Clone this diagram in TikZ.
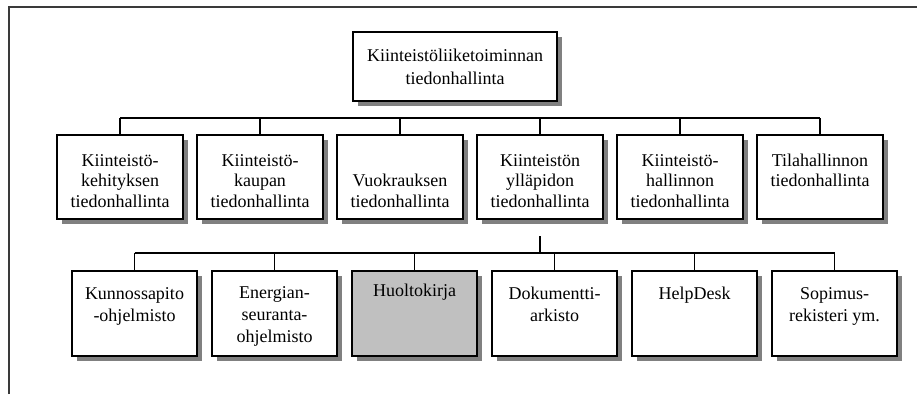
\documentclass[tikz,border=0pt]{standalone}
\usepackage{fontspec}
\setmainfont{Liberation Serif}
\usetikzlibrary{shadows}
\definecolor{shadowgray}{HTML}{808080}
\definecolor{markgray}{HTML}{C0C0C0}
\definecolor{framegray}{HTML}{3A3A3A}
\tikzset{
  box/.style={draw, line width=1.6pt, fill=white, inner sep=0pt,
    drop shadow={shadow xshift=5pt, shadow yshift=-5pt, fill=shadowgray, opacity=1}},
  midbox/.style={box, minimum width=126pt, minimum height=84pt},
  lowbox/.style={box, minimum width=125pt, minimum height=85pt},
  txt/.style={inner sep=0pt, align=center, anchor=north},
  toptxt/.style={txt, font=\fontsize{18}{23}\selectfont},
  midtxt/.style={txt, font=\fontsize{18}{20.5}\selectfont},
  lowtxt/.style={txt, font=\fontsize{18}{22}\selectfont},
  link/.style={line width=1.2pt, draw=black},
}
\begin{document}
\begin{tikzpicture}[x=1pt, y=-1pt]
\useasboundingbox (0,0) rectangle (917,394);
% outer frame (open towards right and bottom)
\draw[framegray, line width=1.6pt] (9,394) -- (9,7) -- (917,7);

% root
\node[box, minimum width=204pt, minimum height=69pt] (root) at (455,66.5) {};
\node[toptxt] (troot) at ([yshift=-13.9pt]root.north)
  {\strut Kiinteistöliiketoiminnan\\tiedonhallinta};

% second level
\node[midbox] (m1) at (120,177) {};
\node[midbox] (m2) at (260,177) {};
\node[midbox] (m3) at (400,177) {};
\node[midbox] (m4) at (540,177) {};
\node[midbox] (m5) at (680,177) {};
\node[midbox] (m6) at (820,177) {};
\node[midtxt] (tm1) at ([yshift=-17.6pt]m1.north) {\strut Kiinteistö-\\kehityksen\\tiedonhallinta};
\node[midtxt] (tm2) at ([yshift=-17.6pt]m2.north) {\strut Kiinteistö-\\kaupan\\tiedonhallinta};
\node[midtxt] (tm3) at ([yshift=-38.1pt]m3.north) {\strut Vuokrauksen\\tiedonhallinta};
\node[midtxt] (tm4) at ([yshift=-17.6pt]m4.north) {\strut Kiinteistön\\ylläpidon\\tiedonhallinta};
\node[midtxt] (tm5) at ([yshift=-17.6pt]m5.north) {\strut Kiinteistö-\\hallinnon\\tiedonhallinta};
\node[midtxt] (tm6) at ([yshift=-17.6pt]m6.north) {\strut Tilahallinnon\\tiedonhallinta};

% third level
\node[lowbox] (b1) at (134.5,313.5) {};
\node[lowbox] (b2) at (274.5,313.5) {};
\node[lowbox, fill=markgray] (b3) at (414.5,313.5) {};
\node[lowbox] (b4) at (554.5,313.5) {};
\node[lowbox] (b5) at (694.5,313.5) {};
\node[lowbox] (b6) at (834.5,313.5) {};
\node[lowtxt] (tb1) at ([yshift=-14pt]b1.north) {\strut Kunnossapito\\-ohjelmisto};
\node[lowtxt] (tb2) at ([yshift=-13pt]b2.north) {\strut Energian-\\seuranta-\\ohjelmisto};
\node[lowtxt] (tb3) at ([yshift=-11pt]b3.north) {\strut Huoltokirja};
\node[lowtxt] (tb4) at ([yshift=-14pt]b4.north) {\strut Dokumentti-\\arkisto};
\node[lowtxt] (tb5) at ([yshift=-14pt]b5.north) {\strut HelpDesk};
\node[lowtxt] (tb6) at ([yshift=-14pt]b6.north) {\strut Sopimus-\\rekisteri ym.};

% connector lines
\coordinate (busA) at (0,118);
\coordinate (busB) at (0,253);
\coordinate (stub) at (540,236);
\draw[link] (m1.north |- busA) -- (m6.north |- busA);
\foreach \n in {m1,m2,m3,m4,m5,m6}
  \draw[link] (\n.north) -- (\n.north |- busA);
\draw[link] (stub) -- (stub |- busB);
\draw[link] (b1.north |- busB) -- (b6.north |- busB);
\foreach \n in {b1,b2,b3,b4,b5,b6}
  \draw[link] (\n.north) -- (\n.north |- busB);
\end{tikzpicture}
\end{document}
